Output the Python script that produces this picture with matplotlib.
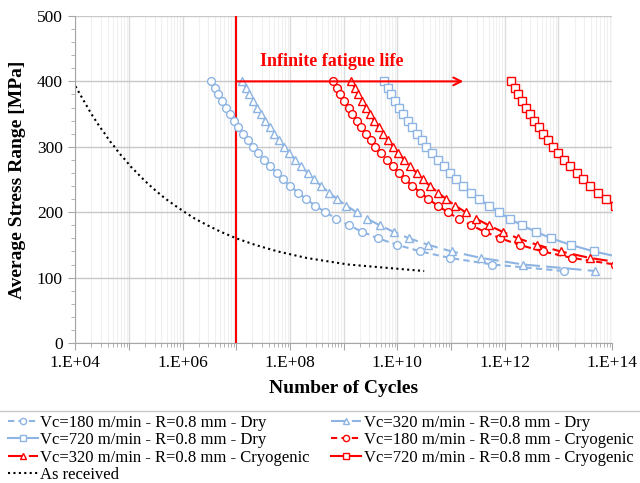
import numpy as np
import matplotlib.pyplot as plt
from matplotlib.lines import Line2D
from matplotlib.ticker import LogLocator, MultipleLocator, FuncFormatter, NullFormatter

plt.rcParams['font.family'] = ['Liberation Serif', 'DejaVu Serif']

# stress levels of the markers [MPa]
stress = [400, 390, 380, 370, 360, 350, 340, 330, 320, 310, 300, 290, 280, 270, 260,
          250, 240, 230, 220, 210, 200, 190, 180, 170, 160, 150, 140, 130, 120, 110]

# log10(cycles), one value per stress level
logn_180_dry = [6.53, 6.60, 6.66, 6.73, 6.81, 6.88, 6.96, 7.04, 7.13, 7.22, 7.31, 7.41, 7.52, 7.63, 7.75,
                7.87, 8.00, 8.15, 8.30, 8.47, 8.66, 8.86, 9.09, 9.35, 9.64, 10.00, 10.43, 10.98, 11.77, 13.11]
logn_320_dry = [7.11, 7.18, 7.24, 7.31, 7.39, 7.46, 7.54, 7.62, 7.71, 7.80, 7.89, 7.99, 8.10, 8.21, 8.33,
                8.45, 8.58, 8.73, 8.88, 9.05, 9.24, 9.44, 9.67, 9.93, 10.22, 10.58, 11.01, 11.56, 12.35, 13.69]
logn_720_dry = [9.76, 9.83, 9.89, 9.96, 10.04, 10.11, 10.19, 10.27, 10.36, 10.45, 10.54, 10.64, 10.75, 10.86, 10.98,
                11.10, 11.23, 11.38, 11.53, 11.70, 11.89, 12.09, 12.32, 12.58, 12.87, 13.23, 13.66, 14.21, 15.00, 16.34]
logn_180_cryo = [8.81, 8.88, 8.94, 9.01, 9.09, 9.16, 9.24, 9.32, 9.41, 9.50, 9.59, 9.69, 9.80, 9.91, 10.03,
                 10.15, 10.28, 10.43, 10.58, 10.75, 10.94, 11.14, 11.37, 11.63, 11.92, 12.28, 12.71, 13.26, 14.05, 15.39]
logn_320_cryo = [9.14, 9.21, 9.27, 9.34, 9.42, 9.49, 9.57, 9.65, 9.74, 9.83, 9.92, 10.02, 10.13, 10.24, 10.36,
                 10.48, 10.61, 10.76, 10.91, 11.08, 11.27, 11.47, 11.70, 11.96, 12.25, 12.61, 13.04, 13.59, 14.38, 15.72]
logn_720_cryo = [12.12, 12.19, 12.25, 12.32, 12.40, 12.47, 12.55, 12.63, 12.72, 12.81, 12.90, 13.00, 13.11, 13.22, 13.34,
                 13.46, 13.59, 13.74, 13.89, 14.06, 14.25, 14.45, 14.68, 14.94, 15.23, 15.59, 16.02, 16.57, 17.36, 18.70]
logn_received = [3.96, 4.02, 4.09, 4.16, 4.23, 4.30, 4.38, 4.46, 4.55, 4.63, 4.73, 4.82, 4.93, 5.03, 5.15,
                 5.27, 5.40, 5.54, 5.69, 5.86, 6.04, 6.23, 6.46, 6.71, 7.00, 7.35, 7.77, 8.31, 9.08, 10.50]

labels = ['Vc=180 m/min - R=0.8 mm - Dry', 'Vc=320 m/min - R=0.8 mm - Dry',
          'Vc=720 m/min - R=0.8 mm - Dry', 'Vc=180 m/min - R=0.8 mm - Cryogenic',
          'Vc=320 m/min - R=0.8 mm - Cryogenic', 'Vc=720 m/min - R=0.8 mm - Cryogenic',
          'As received']

endurance_n = 1e7
arrow_end_n = 1.7e11
arrow_stress = 400

blue = '#8DB4E2'
red = '#FF0000'

fig = plt.figure(figsize=(6.4, 4.83), dpi=100)
ax = fig.add_axes([0.1177, 0.2899, 0.8386, 0.6770])

styles = [
    (logn_180_dry, blue, 'o', (0, (3, 2))),
    (logn_320_dry, blue, '^', (0, (7, 3))),
    (logn_720_dry, blue, 's', '-'),
    (logn_180_cryo, red, 'o', (0, (3, 2))),
    (logn_320_cryo, red, '^', (0, (7, 3))),
    (logn_720_cryo, red, 's', '-'),
]

handles = []
for (logn, col, mk, ls), lab in zip(styles, labels):
    h, = ax.plot(10 ** np.array(logn), stress, color=col, marker=mk, ls=ls, lw=1.5,
                 ms=5.6, mfc='white', mec=col, mew=1.0, label=lab)
    handles.append(h)

h, = ax.plot(10 ** np.array(logn_received), stress, color='black', ls=(0, (1, 1.6)), lw=1.5,
             label=labels[6])
handles.append(h)

# infinite fatigue life marker
ax.plot([endurance_n, endurance_n], [0, 500], color=red, lw=1.5, zorder=1.5)
ax.annotate('', xy=(arrow_end_n, arrow_stress), xytext=(endurance_n, arrow_stress),
            arrowprops=dict(arrowstyle='->', color=red, lw=1.5, mutation_scale=14,
                            shrinkA=0, shrinkB=0))
ax.text(2.8e7, 430, 'Infinite fatigue life', color=red, fontsize=13, fontweight='bold',
        va='center', ha='left')

ax.set_xscale('log')
ax.set_xlim(1e4, 1e14)
ax.set_ylim(0, 500)

ax.xaxis.set_major_locator(LogLocator(base=10, numticks=30))
ax.xaxis.set_minor_locator(LogLocator(base=10, subs=np.arange(2, 10), numticks=300))
ax.xaxis.set_major_formatter(FuncFormatter(
    lambda v, p: '1.E+%02d' % round(np.log10(v)) if round(np.log10(v)) % 2 == 0 else ''))
ax.xaxis.set_minor_formatter(NullFormatter())
ax.yaxis.set_major_locator(MultipleLocator(100))
ax.yaxis.set_minor_locator(MultipleLocator(20))

ax.grid(which='major', axis='y', color='#C8C8C8', lw=1)
ax.grid(which='major', axis='x', color='#DCDCDC', lw=1)
ax.grid(which='minor', axis='x', color='#F0F0F0', lw=0.8)
ax.set_axisbelow(True)

for s in ['top', 'right']:
    ax.spines[s].set_visible(False)
for s in ['left', 'bottom']:
    ax.spines[s].set_color('#A6A6A6')

ax.tick_params(which='major', direction='out', length=5, color='#A6A6A6', labelsize=12.5, pad=4)
ax.tick_params(which='minor', direction='out', length=3, color='#A6A6A6')

ax.set_xlabel('Number of Cycles', fontsize=14, fontweight='bold', labelpad=6)
ax.set_ylabel('Average Stress Range [MPa]', fontsize=14, fontweight='bold', labelpad=8)

# legend below the plot, filled row by row as in the original
order = [0, 2, 4, 6, 1, 3, 5]
fig.legend([handles[i] for i in order], [labels[i] for i in order],
           loc='upper left', bbox_to_anchor=(0.012, 0.141), ncol=2, frameon=False,
           fontsize=12, handlelength=1.8, handletextpad=0.15, columnspacing=1.3,
           labelspacing=0.08, borderpad=0, borderaxespad=0, numpoints=1, markerscale=0.8)
fig.add_artist(Line2D([0, 1], [1 - 411 / 483, 1 - 411 / 483], transform=fig.transFigure,
                      color='#C8C8C8', lw=1))

fig.savefig('out.png', dpi=100)
